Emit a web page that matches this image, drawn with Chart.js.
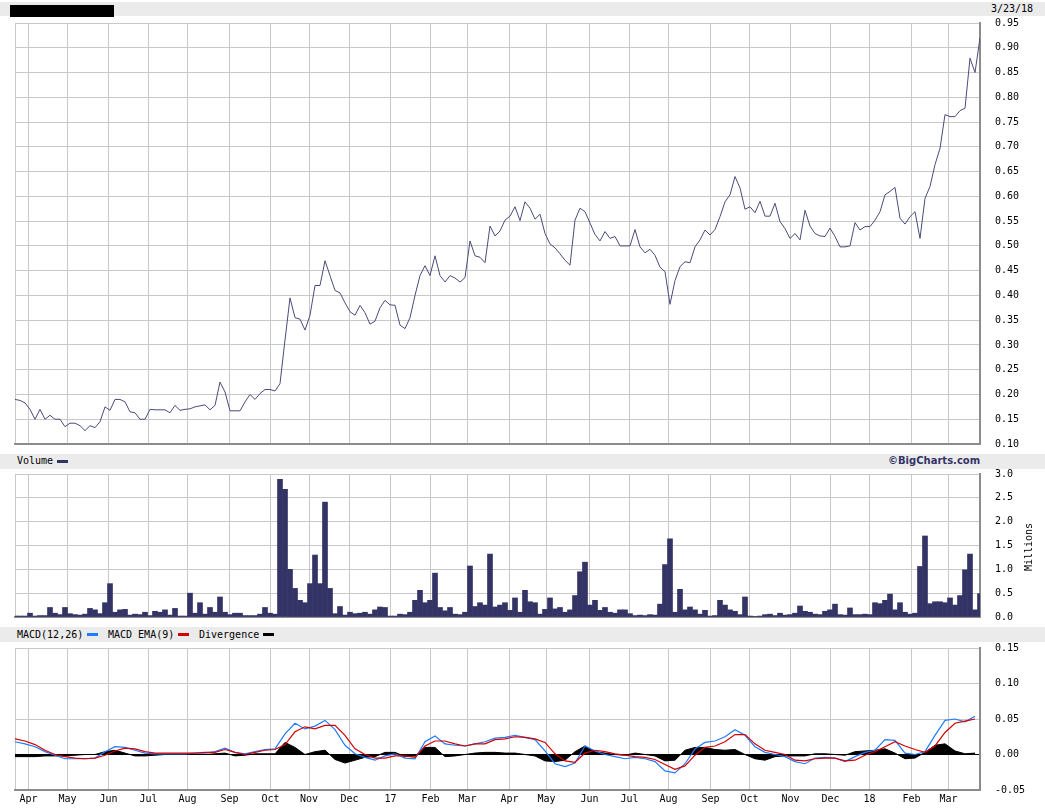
<!DOCTYPE html>
<html>
<head>
<meta charset="utf-8">
<script src="https://cdn.jsdelivr.net/npm/chart.js@4.4.1/dist/chart.umd.min.js"></script>
<style>
  body { margin: 0; background: #fff; }
  #page { position: relative; width: 1045px; height: 808px; overflow: hidden; font-family: 'DejaVu Sans Mono', monospace; color: #000; }
  .band { position: absolute; left: 0; width: 1045px; background: #ebebeb; }
  .txt { position: absolute; font-size: 10px; line-height: 12px; white-space: nowrap; }
  .sw { position: absolute; height: 3px; width: 11px; }
  canvas { position: absolute; left: 0; }
</style>
</head>
<body>
<div id="page">
  <div class="band" style="top:2px;height:14px"></div>
  <div style="position:absolute;left:10px;top:5px;width:104px;height:12px;background:#000"></div>
  <div class="txt" style="left:991px;top:3px">3/23/18</div>

  <div class="band" style="top:454px;height:15px"></div>
  <div class="txt" style="left:17px;top:455px">Volume</div>
  <div class="sw" style="left:57px;top:460px;background:#333366"></div>
  <div class="txt" style="left:888px;top:455px;font-family:'DejaVu Sans',sans-serif;font-weight:bold;color:#333366">©BigCharts.com</div>

  <div class="band" style="top:627px;height:15px"></div>
  <div class="txt" style="left:17px;top:629px">MACD(12,26)</div>
  <div class="sw" style="left:87px;top:633px;background:#1f7bff"></div>
  <div class="txt" style="left:108px;top:629px">MACD EMA(9)</div>
  <div class="sw" style="left:178px;top:633px;background:#d40000"></div>
  <div class="txt" style="left:199px;top:629px">Divergence</div>
  <div class="sw" style="left:263px;top:633px;background:#000"></div>

  <canvas id="priceChart" width="1045" height="441" style="top:13px"></canvas>
  <canvas id="volChart" width="1045" height="163" style="top:464px"></canvas>
  <canvas id="macdChart" width="1045" height="170" style="top:638px"></canvas>
  <div class="txt" style="left:1004px;top:541px;width:50px;text-align:center;transform:rotate(-90deg)">Millions</div>
</div>

<script>
// month grid positions, in price-sample units
const monthPos = [2.7, 10.5, 18.7, 26.7, 34.5, 42.9, 51.1, 58.8, 66.9, 75.1, 83.1, 90.5,
  98.9, 106.3, 114.9, 122.9, 130.7, 139.1, 146.9, 155.1, 163.1, 170.9, 179.3, 186.7];
const monthLabels = ['Apr', 'May', 'Jun', 'Jul', 'Aug', 'Sep', 'Oct', 'Nov', 'Dec', '17', 'Feb', 'Mar',
  'Apr', 'May', 'Jun', 'Jul', 'Aug', 'Sep', 'Oct', 'Nov', 'Dec', '18', 'Feb', 'Mar'];

const price = [
  0.19, 0.188, 0.183, 0.17, 0.15, 0.17, 0.15, 0.158, 0.15, 0.15,
  0.135, 0.142, 0.142, 0.137, 0.127, 0.137, 0.133, 0.145, 0.175, 0.168,
  0.19, 0.19, 0.185, 0.165, 0.163, 0.15, 0.15, 0.17, 0.169, 0.169,
  0.169, 0.163, 0.178, 0.168, 0.17, 0.171, 0.175, 0.177, 0.179, 0.169,
  0.178, 0.225, 0.205, 0.167, 0.167, 0.167, 0.185, 0.20, 0.19, 0.202,
  0.21, 0.21, 0.207, 0.222, 0.31, 0.395, 0.355, 0.352, 0.33, 0.36,
  0.42, 0.42, 0.47, 0.44, 0.41, 0.405, 0.385, 0.367, 0.36, 0.38,
  0.365, 0.342, 0.348, 0.375, 0.39, 0.381, 0.38, 0.34, 0.333, 0.355,
  0.40, 0.44, 0.46, 0.44, 0.48, 0.44, 0.427, 0.44, 0.435, 0.427,
  0.436, 0.51, 0.48, 0.477, 0.466, 0.54, 0.52, 0.53,
  0.552, 0.56, 0.579, 0.551, 0.589, 0.576, 0.554, 0.564, 0.525, 0.504,
  0.496, 0.484, 0.471, 0.461, 0.552, 0.576, 0.569, 0.546, 0.523, 0.51,
  0.529, 0.515, 0.519, 0.50, 0.50, 0.50, 0.533, 0.498, 0.486, 0.493,
  0.481, 0.457, 0.448, 0.382, 0.43, 0.458, 0.468, 0.466, 0.498, 0.512,
  0.532, 0.522, 0.533, 0.559, 0.589, 0.603, 0.64, 0.617, 0.574, 0.579,
  0.567, 0.59, 0.56, 0.56, 0.586, 0.549, 0.535, 0.515, 0.525, 0.512,
  0.572, 0.54, 0.525, 0.52, 0.519, 0.536, 0.519, 0.498, 0.498, 0.50,
  0.547, 0.532, 0.539, 0.539, 0.552, 0.569, 0.603, 0.61, 0.618, 0.556,
  0.544, 0.559, 0.569, 0.515, 0.596, 0.62, 0.664, 0.697, 0.765, 0.761,
  0.761, 0.773, 0.778, 0.879, 0.85, 0.92
];

// millions of shares
const volume = [
  0.02, 0.02, 0.02, 0.08, 0.02, 0.03, 0.03, 0.2, 0.08, 0.05,
  0.2, 0.07, 0.05, 0.04, 0.06, 0.18, 0.15, 0.07, 0.3, 0.7,
  0.1, 0.15, 0.16, 0.04, 0.06, 0.05, 0.1, 0.03, 0.12, 0.1,
  0.15, 0.04, 0.18, 0.02, 0.02, 0.5, 0.08, 0.3, 0.06, 0.2,
  0.1, 0.42, 0.1, 0.05, 0.08, 0.08, 0.03, 0.03, 0.03, 0.06,
  0.2, 0.08, 0.06, 2.89, 2.68, 1.0, 0.6, 0.35, 0.3, 0.7,
  1.3, 0.7, 2.41, 0.6, 0.07, 0.22, 0.04, 0.1, 0.07, 0.08,
  0.1, 0.06, 0.15, 0.21, 0.2, 0.02, 0.02, 0.06, 0.05, 0.1,
  0.35, 0.56, 0.3, 0.35, 0.92, 0.2, 0.13, 0.2, 0.06, 0.05,
  0.1, 1.07, 0.22, 0.3, 0.25, 1.32, 0.21, 0.25,
  0.3, 0.14, 0.4, 0.1, 0.56, 0.32, 0.3, 0.06, 0.16, 0.4,
  0.17, 0.2, 0.1, 0.15, 0.45, 0.95, 1.15, 0.25, 0.35, 0.14,
  0.2, 0.1, 0.08, 0.15, 0.15, 0.07, 0.03, 0.04, 0.03, 0.05,
  0.04, 0.27, 1.1, 1.64, 0.1, 0.58, 0.15, 0.21, 0.15, 0.06,
  0.14, 0.02, 0.03, 0.35, 0.25, 0.15, 0.12, 0.05, 0.42, 0.02,
  0.01, 0.02, 0.05, 0.06, 0.03, 0.08, 0.04, 0.05, 0.08, 0.23,
  0.12, 0.1, 0.06, 0.05, 0.12, 0.15, 0.27, 0.05, 0.04, 0.19,
  0.05, 0.05, 0.06, 0.05, 0.3, 0.28, 0.35, 0.48, 0.15, 0.3,
  0.1, 0.06, 0.08, 1.06, 1.7, 0.28, 0.32, 0.32, 0.3, 0.4,
  0.25, 0.45, 0.99, 1.32, 0.15, 0.49
];

// MACD panel, one value every two price samples
const macd = [
  0.018, 0.015, 0.011, 0.004, -0.001, -0.006, -0.006, -0.006, -0.005, 0.004,
  0.011, 0.010, 0.006, 0.002, 0.001, 0.001, 0.001, 0.001, 0.002, 0.002,
  0.004, 0.009, 0.003, 0.001, 0.004, 0.007, 0.008, 0.029, 0.044, 0.036,
  0.040, 0.048, 0.035, 0.013,
  0.001, -0.004, -0.008, -0.002, 0.001, -0.005, -0.006, 0.018, 0.026, 0.015,
  0.013, 0.012, 0.015, 0.018, 0.023, 0.024, 0.027, 0.024, 0.021, 0.005,
  -0.013, -0.017, -0.012, 0.012, 0.005, 0.000, -0.003, -0.006, -0.004, -0.006,
  -0.010, -0.023, -0.026, -0.013, 0.008, 0.017, 0.019, 0.025,
  0.035, 0.027, 0.011, 0.003, 0.000, -0.003, -0.010, -0.013, -0.005, -0.004,
  -0.005, -0.010, -0.003, 0.003, 0.006, 0.021, 0.020, 0.002, 0.000, 0.004,
  0.027, 0.048, 0.050, 0.046, 0.054
];
const macdEma = [
  0.022, 0.019, 0.014, 0.006, 0.000, -0.003, -0.005, -0.006, -0.005, -0.001,
  0.005, 0.009, 0.008, 0.004, 0.002, 0.002, 0.002, 0.002, 0.002, 0.003,
  0.003, 0.007, 0.003, 0.000, 0.003, 0.006, 0.007, 0.014, 0.032, 0.039,
  0.036, 0.041, 0.041, 0.027,
  0.008, 0.000, -0.005, -0.005, -0.002, -0.002, -0.004, 0.012, 0.019, 0.019,
  0.015, 0.012, 0.015, 0.015, 0.021, 0.022, 0.025, 0.024, 0.022, 0.017,
  0.001, -0.009, -0.011, 0.002, 0.006, 0.004, 0.001, -0.001, -0.003, -0.004,
  -0.007, -0.014, -0.021, -0.016, -0.001, 0.010, 0.012, 0.018,
  0.028, 0.028, 0.015, 0.006, 0.003, 0.000, -0.008, -0.009, -0.006, -0.005,
  -0.005, -0.009, -0.008, -0.001, 0.004, 0.011, 0.018, 0.012, 0.007, 0.003,
  0.012, 0.031, 0.044, 0.047, 0.050
];
const divergence = [
  -0.003, -0.003, -0.003, -0.002, -0.002, -0.002, -0.001, 0, 0, 0.004,
  0.006, 0.002, -0.002, -0.002, -0.001, 0, 0, 0, 0, 0,
  0.001, 0.002, -0.002, -0.001, 0.001, 0.001, 0.001, 0.017, 0.010, 0.000,
  0.004, 0.006, -0.007, -0.012,
  -0.008, -0.004, -0.003, 0.003, 0.003, -0.003, -0.002, 0.010, 0.010, -0.003,
  -0.002, 0, 0.002, 0.003, 0.003, 0.002, 0.002, 0, -0.002, -0.009,
  -0.010, -0.008, 0.004, 0.012, 0.004, 0.002, 0, -0.001, 0.002, 0,
  -0.002, -0.009, -0.008, 0.006, 0.010, 0.010, 0.007, 0.006,
  0.007, 0, -0.006, -0.008, -0.003, -0.002, -0.002, -0.002, 0.001, 0.001,
  0, -0.001, 0.004, 0.005, 0.006, 0.008, 0.002, -0.006, -0.005, 0.003,
  0.013, 0.015, 0.005, 0.001, 0.002
];

const gridColor = '#c8c8c8';
const frameColor = '#8c8c8c';

Chart.defaults.font.family = "'DejaVu Sans Mono', monospace";
Chart.defaults.font.size = 10;
Chart.defaults.color = '#000';

function xScale(showLabels) {
  return {
    type: 'linear',
    min: 0,
    max: price.length - 1,
    offset: false,
    afterBuildTicks: (scale) => {
      scale.ticks = [{ value: 0 }].concat(monthPos.map(v => ({ value: v })));
    },
    afterFit: (scale) => { scale.height = showLabels ? 18 : 0; },
    grid: { color: gridColor, drawTicks: false, offset: false },
    border: { color: frameColor, width: 2 },
    ticks: {
      display: showLabels,
      autoSkip: false,
      maxRotation: 0,
      padding: 3,
      callback: (value, index) => index === 0 ? '' : monthLabels[index - 1]
    }
  };
}

// invisible tick marks push the labels right without adding label padding
function yScale(min, max, step, digits, zeroLine) {
  return {
    position: 'right',
    min: min,
    max: max,
    afterFit: (scale) => { scale.width = 65; },
    grid: {
      drawTicks: true,
      tickLength: 15,
      tickColor: 'rgba(0,0,0,0)',
      color: (ctx) => (zeroLine && Math.abs(ctx.tick.value) < 1e-9) ? '#000' : gridColor
    },
    border: { color: frameColor, width: 2 },
    ticks: { stepSize: step, padding: 0, callback: v => v.toFixed(digits) }
  };
}

function baseOptions(bottomPad) {
  return {
    responsive: false,
    animation: false,
    devicePixelRatio: 1,
    layout: { padding: { left: 15, right: 0, top: 10, bottom: bottomPad } },
    plugins: { legend: { display: false }, tooltip: { enabled: false } },
    elements: { point: { radius: 0 } }
  };
}

new Chart(document.getElementById('priceChart'), {
  type: 'line',
  data: {
    datasets: [{
      data: price.map((v, i) => ({ x: i, y: v })),
      borderColor: '#4a4a7c',
      borderWidth: 1,
      tension: 0
    }]
  },
  options: Object.assign(baseOptions(10), {
    scales: { x: xScale(false), y: yScale(0.10, 0.95, 0.05, 2, false) }
  })
});

new Chart(document.getElementById('volChart'), {
  type: 'bar',
  data: {
    datasets: [{
      data: volume.map((v, i) => ({ x: i, y: v })),
      backgroundColor: '#333366',
      borderWidth: 0,
      barPercentage: 1,
      categoryPercentage: 1
    }]
  },
  options: Object.assign(baseOptions(10), {
    scales: { x: xScale(false), y: yScale(0, 3, 0.5, 1, false) }
  })
});

new Chart(document.getElementById('macdChart'), {
  type: 'line',
  data: {
    datasets: [
      {
        data: macdEma.map((v, j) => ({ x: j * 2, y: v })),
        borderColor: '#d40000',
        borderWidth: 1.2,
        order: 1
      },
      {
        data: macd.map((v, j) => ({ x: j * 2, y: v })),
        borderColor: '#1f7bff',
        borderWidth: 1.2,
        order: 2
      },
      {
        data: divergence.map((v, j) => ({ x: j * 2, y: v })),
        borderColor: '#000',
        backgroundColor: '#000',
        borderWidth: 1,
        fill: 'origin',
        order: 3
      }
    ]
  },
  options: Object.assign(baseOptions(0), {
    scales: { x: xScale(true), y: yScale(-0.05, 0.15, 0.05, 2, true) }
  })
});
</script>
</body>
</html>
